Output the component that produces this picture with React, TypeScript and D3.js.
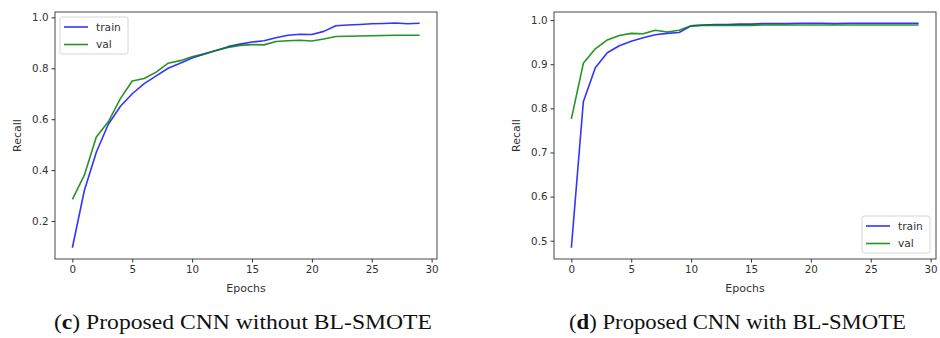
import { useEffect, useRef } from "react";
import * as d3 from "d3";

const epochs = d3.range(0, 30);

// (c) without BL-SMOTE
const trainC = [0.095, 0.32, 0.47, 0.58, 0.65, 0.70, 0.74, 0.77, 0.80, 0.82, 0.84, 0.855, 0.87, 0.885, 0.895, 0.903, 0.908, 0.92, 0.93, 0.934, 0.933, 0.945, 0.967, 0.97, 0.972, 0.975, 0.976, 0.978, 0.975, 0.977];
const valC = [0.285, 0.38, 0.53, 0.59, 0.68, 0.75, 0.76, 0.785, 0.82, 0.83, 0.845, 0.857, 0.87, 0.882, 0.89, 0.893, 0.892, 0.905, 0.908, 0.91, 0.907, 0.915, 0.925, 0.926, 0.927, 0.928, 0.929, 0.93, 0.93, 0.93];

// (d) with BL-SMOTE
const trainD = [0.484, 0.815, 0.892, 0.926, 0.942, 0.952, 0.96, 0.967, 0.97, 0.972, 0.987, 0.989, 0.99, 0.99, 0.991, 0.991, 0.992, 0.992, 0.992, 0.993, 0.993, 0.993, 0.992, 0.993, 0.993, 0.993, 0.993, 0.993, 0.993, 0.993];
const valD = [0.776, 0.902, 0.935, 0.955, 0.965, 0.97, 0.969, 0.977, 0.973, 0.977, 0.987, 0.988, 0.988, 0.988, 0.988, 0.988, 0.989, 0.989, 0.989, 0.989, 0.989, 0.989, 0.989, 0.989, 0.989, 0.989, 0.989, 0.989, 0.989, 0.989];

const xTicks = [0, 5, 10, 15, 20, 25, 30];
const yTicksC = [0.2, 0.4, 0.6, 0.8, 1.0];
const yTicksD = [0.5, 0.6, 0.7, 0.8, 0.9, 1.0];

const seriesNames = ["train", "val"];
const colors = ["#0000ff", "#008000"];

interface PanelOpts {
    left: number;
    right: number;
    top: number;
    bottom: number;
    yDomain: [number, number];
    yTicks: number[];
    series: number[][];
    legend: "tl" | "br";
    caption: [string, string];
    capX: number;
    capW: number;
}

function drawPanel(svg: d3.Selection<SVGSVGElement, unknown, null, undefined>, o: PanelOpts) {
    const x = d3.scaleLinear().domain([-1.45, 30.45]).range([o.left, o.right]);
    const y = d3.scaleLinear().domain(o.yDomain).range([o.bottom, o.top]);
    const g = svg.append("g");
    const font = "'DejaVu Sans', sans-serif";

    // x axis
    const xa = g.append("g")
        .attr("transform", `translate(0,${o.bottom})`)
        .call(d3.axisBottom(x).tickValues(xTicks).tickSize(3.5).tickPadding(3).tickFormat(d3.format("d")));
    xa.select(".domain").remove();
    xa.selectAll("line").attr("stroke", "#333");
    xa.selectAll("text").attr("fill", "#333").style("font-family", font).style("font-size", "10.3px");

    // y axis
    const ya = g.append("g")
        .attr("transform", `translate(${o.left},0)`)
        .call(d3.axisLeft(y).tickValues(o.yTicks).tickSize(3.5).tickPadding(3).tickFormat(d3.format(".1f")));
    ya.select(".domain").remove();
    ya.selectAll("line").attr("stroke", "#333");
    ya.selectAll("text").attr("fill", "#333").style("font-family", font).style("font-size", "10.3px");

    const line = d3.line<number>().x((_, i) => x(epochs[i])).y((d) => y(d));
    o.series.forEach((s, i) => {
        g.append("path")
            .attr("d", line(s))
            .attr("fill", "none")
            .attr("stroke", colors[i])
            .attr("stroke-opacity", i === 0 ? 0.8 : 0.85)
            .attr("stroke-width", 1.6)
            .attr("stroke-linejoin", "round");
    });

    // frame
    g.append("rect")
        .attr("x", o.left).attr("y", o.top)
        .attr("width", o.right - o.left).attr("height", o.bottom - o.top)
        .attr("fill", "none").attr("stroke", "#333").attr("stroke-width", 0.9);

    // labels
    g.append("text")
        .attr("x", (o.left + o.right) / 2).attr("y", o.bottom + 33)
        .attr("text-anchor", "middle").attr("fill", "#333")
        .style("font-family", font).style("font-size", "11px")
        .text("Epochs");
    g.append("text")
        .attr("transform", `translate(${o.left - 34},${(o.top + o.bottom) / 2}) rotate(-90)`)
        .attr("text-anchor", "middle").attr("fill", "#333")
        .style("font-family", font).style("font-size", "11px")
        .text("Recall");

    // legend
    const lw = 68, lh = 37;
    const lx = o.legend === "tl" ? o.left + 5 : o.right - 6 - lw;
    const ly = o.legend === "tl" ? o.top + 5 : o.bottom - 6 - lh;
    const lg = g.append("g").attr("transform", `translate(${lx},${ly})`);
    lg.append("rect").attr("width", lw).attr("height", lh).attr("rx", 2)
        .attr("fill", "white").attr("fill-opacity", 0.8).attr("stroke", "#ccc").attr("stroke-width", 0.8);
    seriesNames.forEach((n, i) => {
        const yy = 10 + i * 17.5;
        lg.append("line").attr("x1", 4).attr("x2", 28).attr("y1", yy).attr("y2", yy)
            .attr("stroke", colors[i]).attr("stroke-opacity", i === 0 ? 0.8 : 0.85).attr("stroke-width", 1.6);
        lg.append("text").attr("x", 36).attr("y", yy).attr("dy", "0.35em")
            .attr("fill", "#333").style("font-family", font).style("font-size", "10.7px").text(n);
    });

    // caption
    const cap = svg.append("text")
        .attr("x", o.capX).attr("y", 329)
        .attr("textLength", o.capW).attr("lengthAdjust", "spacingAndGlyphs")
        .attr("fill", "#111")
        .style("font-family", "'Liberation Serif', serif").style("font-size", "22px");
    cap.append("tspan").text("(");
    cap.append("tspan").attr("font-weight", "bold").text(o.caption[0]);
    cap.append("tspan").text(") " + o.caption[1]);
}

export default function App() {
    const svgRef = useRef<SVGSVGElement>(null);

    useEffect(() => {
        if (!svgRef.current) return;
        const svg = d3.select(svgRef.current);
        svg.selectAll("*").remove();

        drawPanel(svg, {
            left: 55, right: 437, top: 12, bottom: 259,
            yDomain: [0.0509, 1.0211], yTicks: yTicksC,
            series: [trainC, valC], legend: "tl",
            caption: ["c", "Proposed CNN without BL-SMOTE"],
            capX: 54, capW: 378,
        });
        drawPanel(svg, {
            left: 554, right: 936, top: 12, bottom: 259,
            yDomain: [0.4586, 1.0184], yTicks: yTicksD,
            series: [trainD, valD], legend: "br",
            caption: ["d", "Proposed CNN with BL-SMOTE"],
            capX: 569, capW: 337,
        });
    }, []);

    return (
        <svg
            ref={svgRef}
            width={940}
            height={338}
            style={{ position: "absolute", left: 0, top: 0, background: "white" }}
        />
    );
}
